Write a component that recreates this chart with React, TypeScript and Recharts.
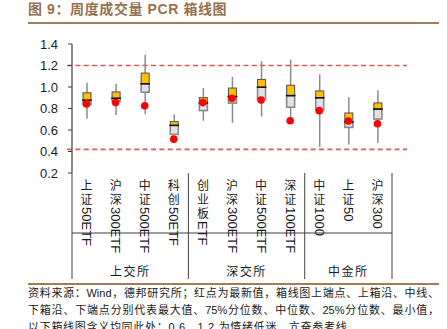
import React from 'react';
import { ComposedChart, Bar, Line, XAxis, YAxis, ReferenceLine } from 'recharts';

// ---- data ----
const categories = ['上证50ETF', '沪深300ETF', '中证500ETF', '科创50ETF', '创业板ETF', '沪深300ETF', '中证500ETF', '深证100ETF', '中证1000', '上证50', '沪深300'];
const exchanges = ['上交所', '深交所', '中金所'];
const exchangeOf = [0, 0, 0, 0, 1, 1, 1, 1, 2, 2, 2];
const maxValues = [1.04, 1.03, 1.3, 0.745, 0.99, 1.095, 1.24, 1.255, 1.118, 0.905, 0.97];
const q3Values = [0.946, 0.954, 1.129, 0.678, 0.901, 0.99, 1.07, 1.016, 0.963, 0.758, 0.852];
const medianValues = [0.877, 0.895, 1.03, 0.643, 0.852, 0.911, 0.998, 0.92, 0.9, 0.674, 0.795];
const q1Values = [0.835, 0.867, 0.951, 0.559, 0.781, 0.85, 0.889, 0.812, 0.783, 0.624, 0.702];
const minValues = [0.705, 0.739, 0.747, 0.559, 0.685, 0.667, 0.726, 0.705, 0.443, 0.465, 0.48];
const latestValues = [0.843, 0.855, 0.826, 0.515, 0.855, 0.896, 0.879, 0.686, 0.78, 0.683, 0.658];
const yTicks = [0.2, 0.4, 0.6, 0.8, 1.0, 1.2, 1.4];
const refLow = 0.42;
const refHigh = 1.2;

const titleText = '图 9：周度成交量 PCR 箱线图';
const noteLines = [
  '资料来源：Wind，德邦研究所；红点为最新值，箱线图上端点、上箱沿、中线、',
  '下箱沿、下端点分别代表最大值、75%分位数、中位数、25%分位数、最小值，',
  '以下箱线图含义均同此处；0.6、1.2 为情绪低迷、亢奋参考线',
];

// ---- layout ----
const W = 447;
const H = 329;
const MARGIN = { top: 44, right: 55, bottom: 46, left: 12 };
const YAXIS_W = 60;
const XAXIS_H = 110;
const PLOT_LEFT = MARGIN.left + YAXIS_W;
const PLOT_W = W - PLOT_LEFT - MARGIN.right;
const PLOT_BOTTOM = H - MARGIN.bottom - XAXIS_H;
const BAND = PLOT_W / categories.length;

const CJK = "'Noto Sans CJK SC', sans-serif";
const LATIN = "'Liberation Sans', Arial, 'Noto Sans CJK SC', sans-serif";
const AXIS_COLOR = '#404040';

const keys = categories.map((c, i) => `${exchanges[exchangeOf[i]]}-${c}`);
const data = categories.map((c, i) => ({
  key: keys[i],
  label: c,
  whisker: [minValues[i], maxValues[i]],
  lower: [q1Values[i], medianValues[i]],
  upper: [medianValues[i], q3Values[i]],
  latest: latestValues[i],
}));

const norm = (p: any) => {
  const y = Math.min(p.y, p.y + p.height);
  const h = Math.abs(p.height);
  return { x: p.x, y, w: p.width, h };
};

const WhiskerShape = (p: any) => {
  const { x, y, w, h } = norm(p);
  const cx = x + w / 2;
  return <line x1={cx} x2={cx} y1={y} y2={y + h} stroke="#8c8c8c" strokeWidth={1.5} />;
};

const LowerShape = (p: any) => {
  const { x, y, w, h } = norm(p);
  return <rect x={x} y={y} width={w} height={h} fill="#E2E2E2" stroke="#8a8a8a" strokeWidth={1.6} />;
};

const UpperShape = (p: any) => {
  const { x, y, w, h } = norm(p);
  return (
    <g>
      <rect x={x} y={y} width={w} height={h} fill="#FFC000" stroke="#5a5a5a" strokeWidth={1.1} />
      <line x1={x - 0.8} x2={x + w + 0.8} y1={y + h} y2={y + h} stroke="#111" strokeWidth={1.5} />
    </g>
  );
};

const RefShape = (p: any) => (
  <line
    x1={Math.min(p.x1, p.x2) - 5}
    x2={Math.max(p.x1, p.x2) + 15}
    y1={p.y1}
    y2={p.y2}
    stroke="#DF5A5A"
    strokeWidth={1.6}
    strokeDasharray="5 3.4"
  />
);

const groupStart = (i: number) => i === 0 || exchangeOf[i] !== exchangeOf[i - 1];

const CategoryTick = (props: any) => {
  const { x, index } = props;
  const i = typeof index === 'number' ? index : props.payload?.index ?? 0;
  const label = categories[i];
  const m = label.match(/^([\u4e00-\u9fff]+)(.*)$/);
  const cjk = m ? m[1] : '';
  const latin = m ? m[2] : label;
  const top = PLOT_BOTTOM;
  const lineBottom = top + 106;
  const els: React.ReactNode[] = [];
  if (groupStart(i)) {
    const left = x - BAND / 2;
    els.push(<line key="sep" x1={left} x2={left} y1={top} y2={lineBottom} stroke={AXIS_COLOR} strokeWidth={1} />);
    const count = exchangeOf.filter((g) => g === exchangeOf[i]).length;
    els.push(
      <text key="grp" x={left + (count * BAND) / 2} y={top + 97} textAnchor="middle" dominantBaseline="central" fontSize={12} letterSpacing={1.5} fill="#1a1a1a" fontFamily={CJK}>
        {exchanges[exchangeOf[i]]}
      </text>
    );
  }
  if (i === categories.length - 1) {
    const right = x + BAND / 2;
    els.push(<line key="sepR" x1={right} x2={right} y1={top} y2={lineBottom} stroke={AXIS_COLOR} strokeWidth={1} />);
  }
  return (
    <g>
      {els}
      <text
        x={x}
        y={top + 6}
        textAnchor="start"
        fill="#1a1a1a"
        style={{ writingMode: 'vertical-rl', textOrientation: 'mixed' } as any}
      >
        <tspan fontSize={12} letterSpacing={2} fontFamily={CJK}>{cjk}</tspan>
        <tspan fontSize={13} fontFamily={LATIN}>{latin}</tspan>
      </text>
    </g>
  );
};

export default function App() {
  return (
    <div style={{ position: 'absolute', left: 0, top: 0, width: W, height: H, background: '#fff', overflow: 'hidden' }}>
      <div style={{ position: 'absolute', left: 28, top: 0, height: 19, lineHeight: '19px', fontSize: 14, fontWeight: 700, color: '#96724F', fontFamily: LATIN, letterSpacing: 0.6, whiteSpace: 'nowrap' }}>
        {titleText}
      </div>
      <div style={{ position: 'absolute', left: 28, top: 22, width: 411, height: 2, background: '#A47B57' }} />
      <div style={{ position: 'absolute', left: 0, top: 0 }}>
        <ComposedChart width={W} height={H} data={data} margin={MARGIN}>
          <XAxis xAxisId="w" dataKey="key" hide />
          <XAxis xAxisId="lo" dataKey="key" hide />
          <XAxis xAxisId="hi" dataKey="key" hide />
          <XAxis
            xAxisId="main"
            dataKey="key"
            height={XAXIS_H}
            interval={0}
            tickLine={false}
            tickSize={0}
            axisLine={{ stroke: AXIS_COLOR, strokeWidth: 1.2 }}
            tick={<CategoryTick />}
          />
          <YAxis
            type="number"
            domain={[0.2, 1.4]}
            ticks={yTicks}
            width={YAXIS_W}
            tickSize={4}
            tickMargin={10}
            allowDataOverflow
            axisLine={{ stroke: AXIS_COLOR, strokeWidth: 1.2 }}
            tickLine={{ stroke: AXIS_COLOR }}
            tick={{ fontSize: 13, fill: '#1a1a1a', fontFamily: LATIN }}
            tickFormatter={(v: number) => v.toFixed(1)}
          />
          <ReferenceLine xAxisId="main" y={refHigh} shape={RefShape} />
          <ReferenceLine xAxisId="main" y={refLow} shape={RefShape} />
          <Bar xAxisId="w" dataKey="whisker" barSize={2} shape={WhiskerShape} isAnimationActive={false} />
          <Bar xAxisId="lo" dataKey="lower" barSize={8} shape={LowerShape} isAnimationActive={false} />
          <Bar xAxisId="hi" dataKey="upper" barSize={8} shape={UpperShape} isAnimationActive={false} />
          <Line
            xAxisId="main"
            dataKey="latest"
            stroke="none"
            dot={{ r: 3.8, fill: '#FF0000', stroke: 'none' }}
            activeDot={false}
            isAnimationActive={false}
          />
        </ComposedChart>
      </div>
      <div style={{ position: 'absolute', left: 28, top: 283, width: 411, height: 2, background: '#A47B57' }} />
      <div style={{ position: 'absolute', left: 28, top: 285, width: 411, fontSize: 11, lineHeight: '17px', color: '#1a1a1a', fontFamily: LATIN }}>
        {noteLines.map((t, k) => (
          <div key={k} style={k < noteLines.length - 1 ? { textAlign: 'justify', textAlignLast: 'justify', whiteSpace: 'nowrap' } : { letterSpacing: 0.7, whiteSpace: 'nowrap' }}>
            {t}
          </div>
        ))}
      </div>
    </div>
  );
}
